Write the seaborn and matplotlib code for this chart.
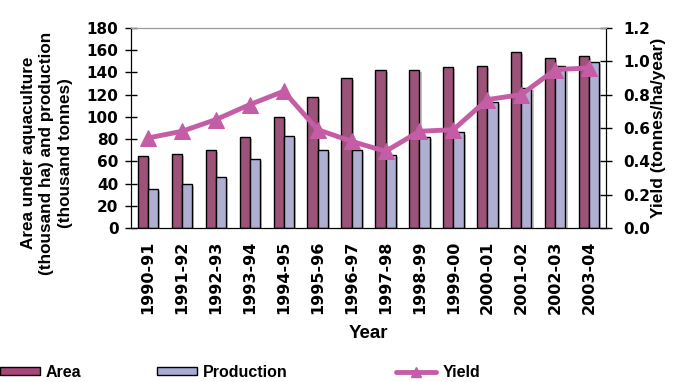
import numpy as np
import pandas as pd
import seaborn as sns
import matplotlib.pyplot as plt
import matplotlib.patheffects as pe
from matplotlib.patches import Patch
from matplotlib.lines import Line2D

years = ["1990-91", "1991-92", "1992-93", "1993-94", "1994-95", "1995-96", "1996-97",
         "1997-98", "1998-99", "1999-00", "2000-01", "2001-02", "2002-03", "2003-04"]
area = [65, 67, 70, 82, 100, 118, 135, 142, 142, 145, 146, 158, 153, 155]
production = [35, 40, 46, 62, 83, 70, 70, 66, 82, 86, 113, 126, 146, 149]
yield_ = [0.54, 0.58, 0.65, 0.74, 0.82, 0.59, 0.52, 0.46, 0.58, 0.59, 0.77, 0.80, 0.95, 0.96]

c_area = "#A8467A"
c_prod = "#AAAAD6"
c_yield = "#C45DA6"

sns.set_style("white")
plt.rcParams["font.family"] = ["Liberation Sans", "DejaVu Sans"]
plt.rcParams["font.weight"] = "bold"
for k in ("text.color", "axes.labelcolor", "xtick.color", "ytick.color"):
    plt.rcParams[k] = "black"
tickfont = {"family": "DejaVu Sans", "weight": "bold", "size": 11}

df = pd.DataFrame({"Year": years * 2,
                   "value": area + production,
                   "series": ["Area"] * len(years) + ["Production"] * len(years)})

fig = plt.figure(figsize=(6.75, 3.82), dpi=100)
ax = fig.add_axes([0.194, 0.403, 0.704, 0.524])

sns.barplot(data=df, x="Year", y="value", hue="series", order=years,
            palette=[c_area, c_prod], width=0.6, edgecolor="black", linewidth=1,
            legend=False, ax=ax, zorder=2)
shadow = [pe.SimplePatchShadow(offset=(1.5, -1.5), shadow_rgbFace="#888888", alpha=0.5), pe.Normal()]
for p in ax.patches:
    p.set_path_effects(shadow)

ax2 = ax.twinx()
sns.lineplot(x=np.arange(len(years)), y=yield_, color=c_yield, linewidth=3.5,
             marker="^", markersize=12, markeredgecolor=c_yield, ax=ax2, zorder=3)

ax.set_xlim(-0.5, len(years) - 0.5)
ax.set_ylim(0, 180)
ax.set_yticks(range(0, 181, 20))
ax.set_yticklabels([str(v) for v in range(0, 181, 20)], fontdict=tickfont)
ax2.set_ylim(0, 1.2)
ax2.set_yticks(np.arange(0, 1.21, 0.2))
ax2.set_yticklabels([f"{v:.1f}" for v in np.arange(0, 1.21, 0.2)], fontdict=tickfont)

ax.set_xticks(range(len(years)))
ax.set_xticklabels(years, rotation=90, fontdict=dict(tickfont, size=11.5))
ax.tick_params(axis="x", length=0, pad=9)
ax.set_xticks(np.arange(-0.5, len(years), 1), minor=True)
ax.tick_params(axis="x", which="minor", length=8, direction="inout", width=1)
ax.tick_params(axis="y", direction="inout", length=8, width=1, left=True, pad=5)
ax2.tick_params(axis="y", direction="inout", length=8, width=1, right=True, pad=8)

for a in (ax, ax2):
    a.spines["top"].set_color("#999999")
    a.spines["left"].set_color("black")
    a.spines["right"].set_color("black")
    a.spines["bottom"].set_color("black")

ax.set_xlabel("Year", fontsize=13.5, fontweight="bold", labelpad=8)
ax.set_ylabel("Area under aquaculture\n(thousand ha) and production\n(thousand tonnes)",
              fontsize=12.3, fontweight="bold", linespacing=1.3)
ax.yaxis.set_label_coords(-0.122, 0.375)
ax2.set_ylabel("Yield (tonnes/ha/year)", fontsize=12.5, fontweight="bold", labelpad=1)
ax2.set_xlabel("")

leg_kw = dict(frameon=False, handlelength=2.5, handleheight=0.45, prop={"weight": "bold", "size": 11.5},
              handletextpad=0.38, borderpad=0, borderaxespad=0, loc="center left")
fig.legend(handles=[Patch(facecolor=c_area, edgecolor="black", label="Area")],
           bbox_to_anchor=(0.0, 0.026), **leg_kw)
fig.legend(handles=[Patch(facecolor=c_prod, edgecolor="black", label="Production")],
           bbox_to_anchor=(0.233, 0.026), **leg_kw)
fig.legend(handles=[Line2D([], [], color=c_yield, linewidth=3.5, marker="^", markersize=7,
                           label="Yield")],
           bbox_to_anchor=(0.587, 0.026), **leg_kw)

fig.savefig("out.png", dpi=100)
